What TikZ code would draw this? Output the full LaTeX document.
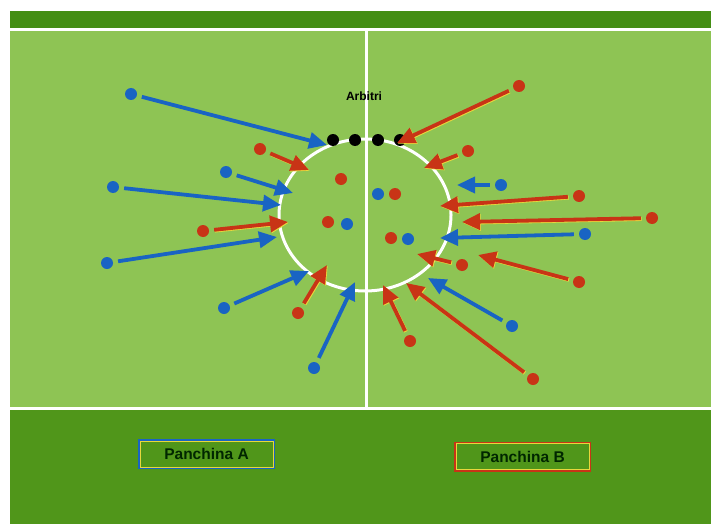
\documentclass[tikz,border=0pt]{standalone}
\usepackage{fontspec}
\setmainfont{Liberation Sans}
\usetikzlibrary{arrows.meta}
\definecolor{pitch}{RGB}{142,196,84}
\definecolor{band}{RGB}{68,142,20}
\definecolor{bench}{RGB}{80,150,26}
\definecolor{tblue}{RGB}{25,100,195}
\definecolor{tred}{RGB}{200,52,22}
\definecolor{halo}{RGB}{232,215,60}
\tikzset{
  bdot/.style={circle,fill=tblue,inner sep=0pt,minimum size=12pt},
  rdot/.style={circle,fill=tred,inner sep=0pt,minimum size=12pt},
  kdot/.style={circle,fill=black,inner sep=0pt,minimum size=12pt},
  barrow/.style={draw=tblue,line width=3.8pt,shorten <=5pt,-{Triangle[length=18pt,width=16pt]}},
  rarrow/.style={draw=tred,line width=3.8pt,shorten <=5pt,-{Triangle[length=18pt,width=16pt]},
    preaction={draw=halo,line width=3.8pt,shorten <=5pt,-{Triangle[length=18pt,width=16pt]},transform canvas={shift={(0.8pt,-0.8pt)}}}},
  benchbox/.style={line width=2pt,minimum width=135pt,minimum height=28pt,inner sep=0pt,
    font=\fontsize{15.5}{17}\selectfont\bfseries,text=black!85!green},
  wline/.style={draw=white,line width=3pt}
}
\begin{document}
\begin{tikzpicture}[x=1pt,y=-1pt]
\useasboundingbox (0,0) rectangle (711,524);
\fill[white] (0,0) rectangle (711,524);
% bands
\fill[band] (10,11) rectangle (711,29);
\fill[pitch] (10,29) rectangle (711,408);
\fill[bench] (10,408) rectangle (711,524);
\draw[wline] (10,29.5) -- (711,29.5);
\draw[wline] (10,408) -- (711,408);
\draw[wline] (366,29) -- (366,407);
\draw[wline] (365,215) ellipse [x radius=86, y radius=76];
% referees
\node[font=\fontsize{12}{14}\selectfont\bfseries] (arb) at (364,96) {Arbitri};
\node[kdot] (k1) at (333,140) {};
\node[kdot] (k2) at (355,140) {};
\node[kdot] (k3) at (378,140) {};
\node[kdot] (k4) at (400,140) {};
% inside circle
\node[rdot] (i1) at (341,179) {};
\node[rdot] (i2) at (328,222) {};
\node[bdot] (i3) at (347,224) {};
\node[bdot] (i4) at (378,194) {};
\node[rdot] (i5) at (395,194) {};
\node[rdot] (i6) at (391,238) {};
\node[bdot] (i7) at (408,239) {};
% left players
\node[bdot] (b1) at (131,94) {};   \coordinate (tb1) at (327,145);
\node[bdot] (b2) at (226,172) {};  \coordinate (tb2) at (293,193);
\node[bdot] (b3) at (113,187) {};  \coordinate (tb3) at (281,205);
\node[bdot] (b4) at (107,263) {};  \coordinate (tb4) at (277,237);
\node[bdot] (b5) at (224,308) {};  \coordinate (tb5) at (309,271);
\node[bdot] (b6) at (314,368) {};  \coordinate (tb6) at (355,282);
\node[rdot] (r1) at (260,149) {};  \coordinate (tr1) at (309,170);
\node[rdot] (r2) at (203,231) {};  \coordinate (tr2) at (288,222);
\node[rdot] (r3) at (298,313) {};  \coordinate (tr3) at (327,265);
% right players
\node[rdot] (r4) at (519,86) {};   \coordinate (tr4) at (397,143);
\node[rdot] (r5) at (468,151) {};  \coordinate (tr5) at (424,168);
\node[bdot] (b7) at (501,185) {};  \coordinate (tb7) at (457,185);
\node[rdot] (r6) at (579,196) {};  \coordinate (tr6) at (440,206);
\node[rdot] (r7) at (652,218) {};  \coordinate (tr7) at (462,222);
\node[bdot] (b8) at (585,234) {};  \coordinate (tb8) at (440,238);
\node[rdot] (r8) at (462,265) {};  \coordinate (tr8) at (417,254);
\node[rdot] (r9) at (579,282) {};  \coordinate (tr9) at (478,255);
\node[bdot] (b9) at (512,326) {};  \coordinate (tb9) at (428,278);
\node[rdot] (r10) at (410,341) {}; \coordinate (tr10) at (383,285);
\node[rdot] (r11) at (533,379) {}; \coordinate (tr11) at (406,283);
% arrows
\foreach \n in {1,...,9} {\draw[barrow] (b\n) -- (tb\n);}
\foreach \n in {1,...,11} {\draw[rarrow] (r\n) -- (tr\n);}
% benches
\node[benchbox,draw=tblue] (pa) at (206.5,454) {Panchina A};
\draw[halo,line width=0.8pt] ([shift={(2,2)}]pa.north west) rectangle ([shift={(-2,-2)}]pa.south east);
\node[benchbox,draw=tred] (pb) at (522.5,456.5) {Panchina B};
\draw[halo,line width=0.8pt] ([shift={(2,2)}]pb.north west) rectangle ([shift={(-2,-2)}]pb.south east);
\end{tikzpicture}
\end{document}
